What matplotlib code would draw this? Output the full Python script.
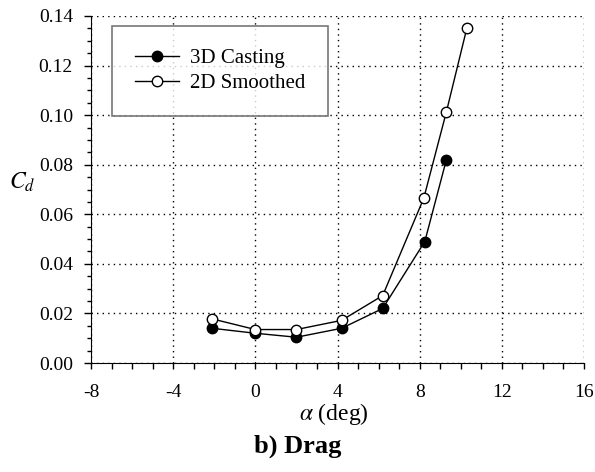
import matplotlib
matplotlib.use("Agg")
import matplotlib.pyplot as plt
from matplotlib.ticker import MultipleLocator

plt.rcParams['font.family'] = ['Liberation Serif', 'DejaVu Serif']
plt.rcParams['mathtext.fontset'] = 'stix'

alpha_cast = [-2.1, 0.0, 2.0, 4.2, 6.2, 8.25, 9.3]
cd_cast = [0.0140, 0.0120, 0.0104, 0.0140, 0.0220, 0.0490, 0.0820]

alpha_smooth = [-2.1, 0.0, 2.0, 4.2, 6.2, 8.2, 9.3, 10.3]
cd_smooth = [0.0178, 0.0135, 0.0135, 0.0172, 0.0272, 0.0665, 0.1013, 0.1352]

xticks = [-8, -4, 0, 4, 8, 12, 16]
yticks = [0.00, 0.02, 0.04, 0.06, 0.08, 0.10, 0.12, 0.14]

fig = plt.figure(figsize=(5.95, 4.72), dpi=100)
# axes spans x 91..584 px, y 16..363 px
ax = fig.add_axes([91/595, 1-363/472, (584-91)/595, (363-16)/472])

ax.plot(alpha_cast, cd_cast, '-o', color='black', lw=1.0, ms=7.5,
        mfc='black', mec='black', label='3D Casting', zorder=3)
ax.plot(alpha_smooth, cd_smooth, '-o', color='black', lw=1.0, ms=7.5,
        mfc='white', mec='black', mew=1.0, label='2D Smoothed', zorder=3)

ax.set_xlim(-8, 16)
ax.set_ylim(0, 0.14)
ax.set_xticks(xticks)
ax.set_yticks(yticks)
ax.set_xticklabels([str(t) for t in xticks], fontsize=14)
ax.set_yticklabels([f"{t:.2f}" for t in yticks], fontsize=14)
ax.xaxis.set_minor_locator(MultipleLocator(1))
ax.yaxis.set_minor_locator(MultipleLocator(0.005))
ax.tick_params(axis='x', which='major', direction='out', length=4, width=1, pad=11)
ax.tick_params(axis='x', which='minor', direction='out', length=4, width=1)
ax.tick_params(axis='y', which='major', direction='out', length=5, width=1, pad=8)
ax.tick_params(axis='y', which='minor', direction='out', length=3, width=1)
ax.spines['top'].set_visible(False)
ax.spines['right'].set_visible(False)
ax.grid(True, which='major', color='black', linestyle=(0, (1, 3)), linewidth=1.0)
ax.set_axisbelow(True)

fig.text(334/595, 1-414/472, r'$\alpha$ (deg)', ha='center', va='center', fontsize=17)
fig.text(22/595, 1-182/472, r'$C_d$', ha='center', va='center', fontsize=17)

leg = ax.legend(loc='upper left', bbox_to_anchor=((112-91)/493, (363-26)/347), fontsize=15,
                frameon=True, fancybox=False, edgecolor='#555555',
                handlelength=2.1, handletextpad=0.55, borderpad=1.1, labelspacing=0.25,
                borderaxespad=0)
leg.get_frame().set_linewidth(1.2)

fig.text(0.5, 1-446/472, 'b) Drag', ha='center', va='center', fontsize=19, fontweight='bold')

fig.savefig('out.png', dpi=100)
